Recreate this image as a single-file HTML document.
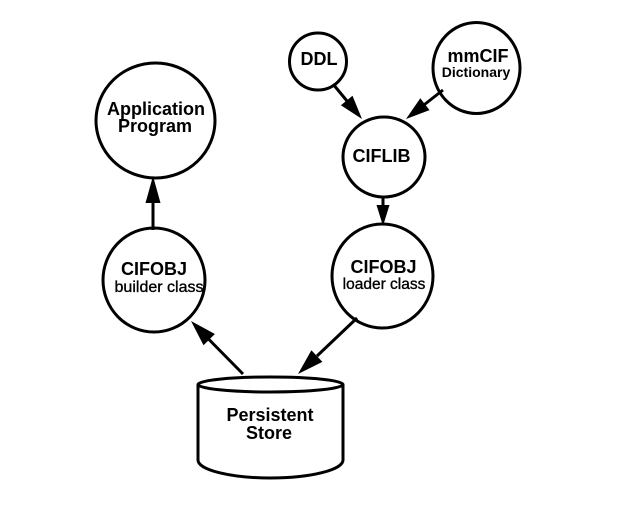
<!DOCTYPE html>
<html>
<head>
<meta charset="utf-8">
<style>
  html, body { margin: 0; padding: 0; background: #ffffff; }
  body { width: 637px; height: 525px; overflow: hidden; }
  svg { display: block; }
  text { font-family: "Liberation Sans", Arial, sans-serif; fill: #000; }
  .b { font-weight: bold; font-size: 18px; }
  .s { font-size: 16px; stroke: #000; stroke-width: 0.35px; }
</style>
</head>
<body>
<svg width="637" height="525" viewBox="0 0 637 525" xmlns="http://www.w3.org/2000/svg">
  <rect x="0" y="0" width="637" height="525" fill="#ffffff"/>
  <g fill="none" stroke="#000" stroke-width="3">
    <!-- Application Program -->
    <ellipse cx="155.5" cy="120.5" rx="59.5" ry="57.5"/>
    <!-- DDL -->
    <circle cx="318" cy="61.5" r="28.5"/>
    <!-- mmCIF -->
    <ellipse cx="476.5" cy="68" rx="43.5" ry="45.5"/>
    <!-- CIFLIB -->
    <ellipse cx="384" cy="157" rx="41" ry="40"/>
    <!-- CIFOBJ builder -->
    <ellipse cx="154" cy="280" rx="51" ry="52"/>
    <!-- CIFOBJ loader -->
    <ellipse cx="382.5" cy="276" rx="50.5" ry="52"/>
    <!-- Cylinder -->
    <ellipse cx="270.5" cy="384.5" rx="72.5" ry="7.5"/>
    <path d="M198,384.5 L198,460 A72.5,18 0 0 0 343,460 L343,384.5"/>
    <!-- shafts -->
    <line x1="153" y1="230" x2="153" y2="202"/>
    <line x1="383" y1="197" x2="383" y2="207"/>
    <line x1="333" y1="84" x2="347" y2="101"/>
    <line x1="443" y1="90" x2="424.5" y2="104.5"/>
    <line x1="243" y1="374" x2="209" y2="339.5"/>
    <line x1="357" y1="318" x2="317" y2="356"/>
  </g>
  <g fill="#000" stroke="none">
    <polygon points="153,176 145.5,203 160.5,203"/>
    <polygon points="383,226 376.5,205 389.5,205"/>
    <polygon points="362,119 340.9,105.3 352.5,95.7"/>
    <polygon points="406,119 420.3,98.3 429.5,110.1"/>
    <polygon points="191,321 214.9,334.0 203.5,345.2"/>
    <polygon points="298,374 322.4,361.9 311.4,350.3"/>
  </g>
  <!-- labels -->
  <text class="b" x="156" y="115" text-anchor="middle">Application</text>
  <text class="b" x="155" y="132" text-anchor="middle">Program</text>
  <text class="b" x="319" y="65" text-anchor="middle">DDL</text>
  <text class="b" x="478" y="62" text-anchor="middle">mmCIF</text>
  <text x="476" y="77" text-anchor="middle" style="font-size:14px;font-weight:bold;">Dictionary</text>
  <text class="b" x="381.5" y="162" text-anchor="middle">CIFLIB</text>
  <text class="b" x="154" y="275" text-anchor="middle">CIFOBJ</text>
  <text class="s" x="159" y="292" text-anchor="middle">builder class</text>
  <text class="b" x="383.5" y="273" text-anchor="middle">CIFOBJ</text>
  <text class="s" x="384" y="289" text-anchor="middle" style="font-size:15.5px;">loader class</text>
  <text class="b" x="270" y="421" text-anchor="middle">Persistent</text>
  <text class="b" x="269" y="439" text-anchor="middle">Store</text>
</svg>
</body>
</html>
